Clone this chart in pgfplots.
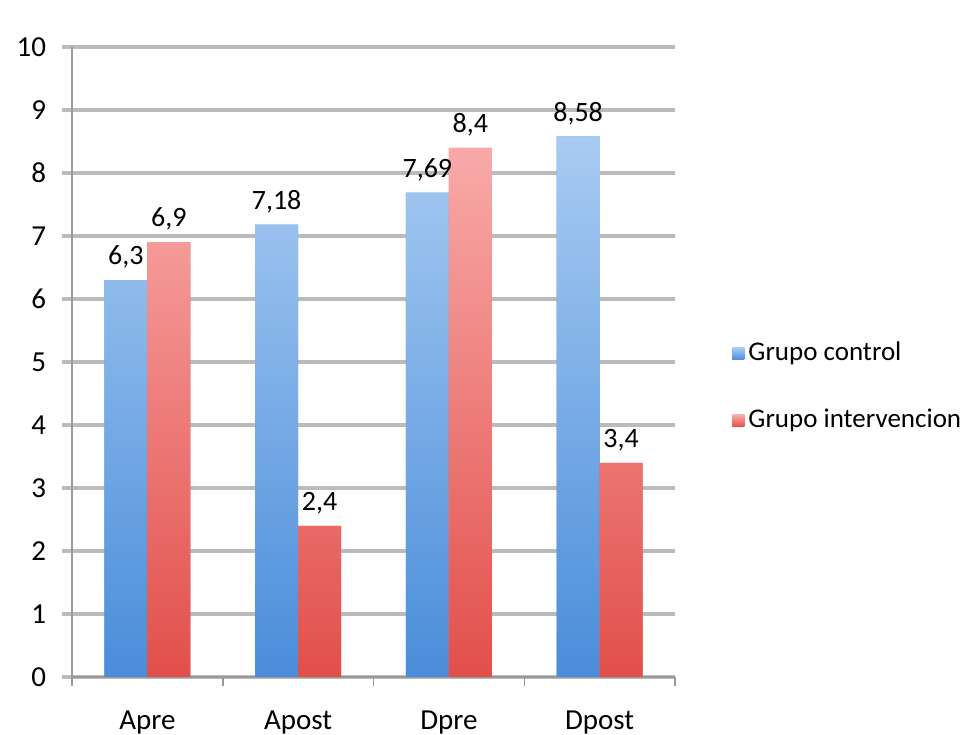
\documentclass[border=0pt]{standalone}
\usepackage{pgfplots}
\pgfplotsset{compat=1.18}
\usepackage{fontspec}
\setmainfont{Carlito}
\definecolor{bluetop}{HTML}{A8CBF2}
\definecolor{bluebot}{HTML}{4A8DDA}
\definecolor{redtop}{HTML}{F8AAA8}
\definecolor{redbot}{HTML}{E24F4B}
\definecolor{gridc}{HTML}{BBBBBB}
\definecolor{axc}{HTML}{999999}
\begin{document}
\fontsize{29pt}{34pt}\selectfont
\begin{tikzpicture}
\useasboundingbox (-72pt,-58pt) rectangle (898pt,677pt);
\begin{axis}[
  scale only axis,
  width=603pt, height=630pt,
  at={(0pt,0pt)}, anchor=south west,
  xmin=-0.5, xmax=3.5,
  ymin=0, ymax=10,
  ytick={0,...,10},
  xtick={0,1,2,3},
  xticklabels={Apre,Apost,Dpre,Dpost},
  /pgf/number format/assume math mode=true,
  ybar=0pt,
  bar width=43pt,
  axis x line*=bottom,
  axis y line*=left,
  axis line style={axc, line width=1.5pt},
  ymajorgrids,
  grid style={gridc, line width=4.5pt},
  y tick style={gridc, line width=4.5pt},
  major tick length=10pt,
  tick align=outside,
  x tick style={draw=none},
  extra x ticks={-0.5,0.5,1.5,2.5,3.5},
  extra x tick labels={},
  extra x tick style={grid=none, x tick style={axc, line width=1.5pt, draw=axc}, major tick length=9pt},
  tick label style={font=\fontsize{29pt}{34pt}\selectfont},
  yticklabel style={xshift=-6pt},
  xticklabel style={yshift=-14pt},
  nodes near coords,
  point meta=explicit symbolic,
  every node near coord/.append style={font=\fontsize{28pt}{32pt}\selectfont, black, yshift=2pt},
  legend style={draw=none, at={(1.09,0.46)}, anchor=west, font=\fontsize{27pt}{32pt}\selectfont, row sep=40pt, fill=none,
    /tikz/every odd column/.append style={column sep=2pt}},
  legend cell align=left,
  legend image code/.code={\fill[#1] (0pt,-6pt) rectangle (12pt,6pt);},
]
\addplot[draw=none, top color=bluetop, bottom color=bluebot, fill=bluebot!70!bluetop] coordinates {(0,6.3)[6,3] (1,7.18)[7,18] (2,7.69)[7,69] (3,8.58)[8,58]};
\addplot[draw=none, top color=redtop, bottom color=redbot, fill=redbot!70!redtop] coordinates {(0,6.9)[6,9] (1,2.4)[2,4] (2,8.4)[8,4] (3,3.4)[3,4]};
\legend{Grupo control, Grupo intervencion}
\end{axis}
\end{tikzpicture}
\end{document}
